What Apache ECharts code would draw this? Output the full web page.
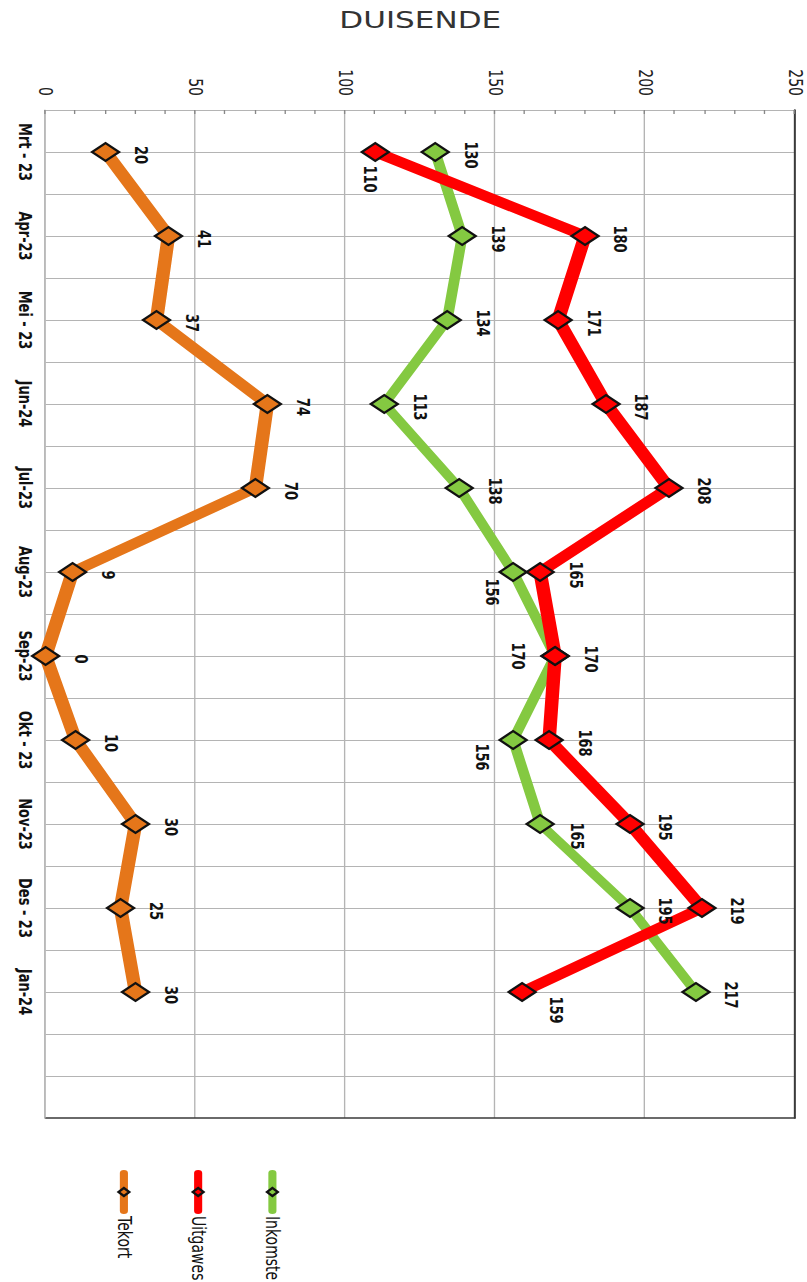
<!DOCTYPE html>
<html>
<head>
<meta charset="utf-8">
<script src="https://cdn.jsdelivr.net/npm/echarts@6/dist/echarts.min.js"></script>
<style>
  html, body { margin: 0; padding: 0; background: #fff; overflow: hidden; width: 807px; height: 1282px; }
  #chart {
    position: absolute; left: 0; top: 0;
    width: 1282px; height: 598px;
    transform-origin: 0 0;
    transform: translate(807px, 0) rotate(90deg) scaleY(1.35);
  }
</style>
</head>
<body>
<div id="chart"></div>
<script>
// ---- data ----
const categories = ['Mrt - 23', 'Apr-23', 'Mei - 23', 'Jun-24', 'Jul-23', 'Aug-23', 'Sep-23', 'Okt - 23', 'Nov-23', 'Des - 23', 'Jan-24', ''];
const inkomste = [130, 139, 134, 113, 138, 156, 170, 156, 165, 195, 217];
const uitgawes = [110, 180, 171, 187, 208, 165, 170, 168, 195, 219, 159];
const tekort   = [20, 41, 37, 74, 70, 9, 0, 10, 30, 25, 30];
const seriesNames = ['Inkomste', 'Uitgawes', 'Tekort'];
const valueMin = 0, valueMax = 250, valueStep = 50;

// ---- style ----
const COLORS = { Inkomste: '#84c941', Uitgawes: '#ff0000', Tekort: '#e5761a' };
const LINE_W = { Inkomste: 8, Uitgawes: 10, Tekort: 10 };
const DEFAULT_LABEL_OFFSET = [3, -26];
const LABEL_OFFSETS = {
  Uitgawes: { 0: [27, 4], 10: [18, -25] },
  Inkomste: { 5: [20, 16], 6: [0, 28], 7: [17, 23], 8: [12, -27] },
  Tekort: {}
};
const FONT = '"DejaVu Sans", "Noto Sans", sans-serif';
const GRID_GRAY = '#b4b4b4';
const DARK = '#3a3a3a';

function buildData(name, arr) {
  return arr.map((v, i) => {
    const item = { value: [i, v] };
    const off = LABEL_OFFSETS[name][i];
    if (off) item.label = { offset: off };
    return item;
  });
}

const dataByName = { Inkomste: inkomste, Uitgawes: uitgawes, Tekort: tekort };

const chart = echarts.init(document.getElementById('chart'), null, { renderer: 'svg' });

const series = seriesNames.map(name => ({
  name: name,
  type: 'line',
  data: buildData(name, dataByName[name]),
  symbol: 'diamond',
  symbolSize: [18, 20],
  lineStyle: { color: COLORS[name], width: LINE_W[name], join: 'round' },
  itemStyle: { color: COLORS[name], borderColor: '#111', borderWidth: 2 },
  label: {
    show: true,
    position: 'inside',
    offset: DEFAULT_LABEL_OFFSET,
    fontFamily: FONT,
    fontSize: 13,
    fontWeight: 'bold',
    color: '#111',
    formatter: p => String(p.value[1])
  },
  emphasis: { disabled: true },
  z: 2
}));

chart.setOption({
  animation: false,
  textStyle: { fontFamily: FONT },
  grid: { left: 110, right: 164, top: 9, bottom: 34, containLabel: false, outerBoundsMode: 'none' },
  legend: {
    data: seriesNames,
    orient: 'vertical',
    left: 1170,
    top: 389,
    itemWidth: 38,
    itemHeight: 10,
    itemGap: 41,
    padding: 0,
    textStyle: { fontFamily: FONT, fontSize: 14, color: '#111' },
    lineStyle: { width: 6, cap: 'round' },
    itemStyle: { borderColor: '#111', borderWidth: 2 }
  },
  xAxis: [
    {
      type: 'value',
      min: -0.5, max: 11.5, interval: 0.5,
      position: 'bottom',
      axisLine: { show: true, onZero: false, lineStyle: { color: GRID_GRAY, width: 1 } },
      axisTick: { show: false },
      axisLabel: {
        margin: 9,
        fontFamily: FONT, fontSize: 13, fontWeight: 'bold', color: '#111',
        formatter: v => (Number.isInteger(v) && categories[v]) ? categories[v] : ''
      },
      splitLine: { show: true, showMaxLine: false, lineStyle: { color: GRID_GRAY, width: 1 } }
    },
    {
      type: 'value',
      min: -0.5, max: 11.5,
      position: 'top',
      axisLine: { show: true, onZero: false, lineStyle: { color: DARK, width: 1.5 } },
      axisTick: { show: false }, axisLabel: { show: false }, splitLine: { show: false }
    }
  ],
  yAxis: [
    {
      type: 'value',
      min: valueMin, max: valueMax, interval: valueStep,
      position: 'left',
      name: 'DUISENDE',
      nameLocation: 'middle',
      nameGap: 79,
      nameTextStyle: { fontFamily: FONT, fontSize: 23, color: '#333' },
      axisLine: { show: true, onZero: false, lineStyle: { color: GRID_GRAY, width: 1 } },
      axisTick: { show: true, inside: true, length: 4, lineStyle: { color: '#888' } },
      minorTick: { show: true, splitNumber: 5, length: 4, lineStyle: { color: '#888' } },
      axisLabel: { margin: 14, fontFamily: FONT, fontSize: 14, color: '#222' },
      splitLine: { show: true, showMaxLine: false, lineStyle: { color: GRID_GRAY, width: 1 } }
    },
    {
      type: 'value',
      min: valueMin, max: valueMax,
      position: 'right',
      axisLine: { show: true, onZero: false, lineStyle: { color: DARK, width: 1.5 } },
      axisTick: { show: false }, axisLabel: { show: false }, splitLine: { show: false }
    }
  ],
  series: series
});
</script>
</body>
</html>
